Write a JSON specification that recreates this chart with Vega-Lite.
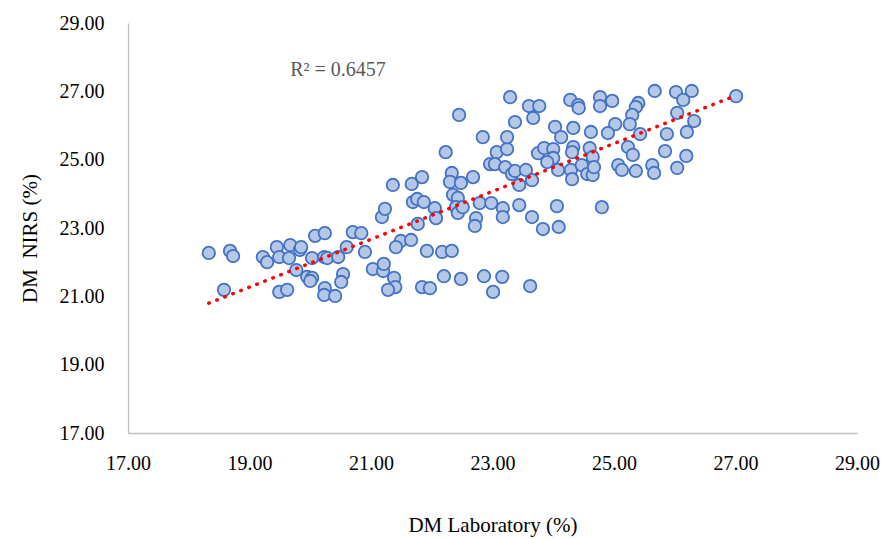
{
  "$schema": "https://vega.github.io/schema/vega-lite/v6.json",
  "width": 729,
  "height": 410,
  "autosize": {"type": "none"},
  "padding": {"left": 128, "top": 23, "right": 26, "bottom": 106},
  "background": "white",
  "config": {"view": {"stroke": null}, "font": "Liberation Serif"},
  "datasets": {
    "points": [
      {"lab": 18.33, "nirs": 22.27}, {"lab": 18.68, "nirs": 22.33}, {"lab": 18.73, "nirs": 22.18}, {"lab": 18.58, "nirs": 21.19},
      {"lab": 19.22, "nirs": 22.15}, {"lab": 19.29, "nirs": 22.00}, {"lab": 19.45, "nirs": 22.44}, {"lab": 19.49, "nirs": 22.15},
      {"lab": 19.67, "nirs": 22.50}, {"lab": 19.65, "nirs": 22.12}, {"lab": 19.83, "nirs": 22.36}, {"lab": 19.85, "nirs": 22.44},
      {"lab": 19.49, "nirs": 21.13}, {"lab": 19.62, "nirs": 21.19}, {"lab": 19.77, "nirs": 21.77}, {"lab": 19.95, "nirs": 21.57},
      {"lab": 20.03, "nirs": 21.54}, {"lab": 20.00, "nirs": 21.45}, {"lab": 20.08, "nirs": 22.77}, {"lab": 20.24, "nirs": 22.85},
      {"lab": 20.03, "nirs": 22.12}, {"lab": 20.23, "nirs": 22.15}, {"lab": 20.28, "nirs": 22.12}, {"lab": 20.46, "nirs": 22.15},
      {"lab": 20.60, "nirs": 22.44}, {"lab": 20.70, "nirs": 22.88}, {"lab": 20.84, "nirs": 22.85}, {"lab": 20.90, "nirs": 22.30},
      {"lab": 20.54, "nirs": 21.65}, {"lab": 20.51, "nirs": 21.42}, {"lab": 20.24, "nirs": 21.24}, {"lab": 20.23, "nirs": 21.04},
      {"lab": 20.41, "nirs": 21.01}, {"lab": 21.03, "nirs": 21.80}, {"lab": 21.20, "nirs": 21.74}, {"lab": 21.21, "nirs": 21.95},
      {"lab": 21.38, "nirs": 21.54}, {"lab": 21.40, "nirs": 21.27}, {"lab": 21.28, "nirs": 21.19}, {"lab": 21.18, "nirs": 23.32},
      {"lab": 21.23, "nirs": 23.56}, {"lab": 21.36, "nirs": 24.26}, {"lab": 21.49, "nirs": 22.62}, {"lab": 21.41, "nirs": 22.44},
      {"lab": 21.66, "nirs": 22.65}, {"lab": 21.67, "nirs": 24.29}, {"lab": 21.84, "nirs": 24.49}, {"lab": 21.69, "nirs": 23.76},
      {"lab": 21.76, "nirs": 23.85}, {"lab": 21.87, "nirs": 23.76}, {"lab": 21.77, "nirs": 23.12}, {"lab": 22.05, "nirs": 23.58},
      {"lab": 22.07, "nirs": 23.29}, {"lab": 21.92, "nirs": 22.33}, {"lab": 21.84, "nirs": 21.27}, {"lab": 21.97, "nirs": 21.24},
      {"lab": 22.17, "nirs": 22.30}, {"lab": 22.33, "nirs": 22.33}, {"lab": 22.20, "nirs": 21.59}, {"lab": 22.48, "nirs": 21.51},
      {"lab": 22.23, "nirs": 25.22}, {"lab": 22.33, "nirs": 24.61}, {"lab": 22.30, "nirs": 24.35}, {"lab": 22.48, "nirs": 24.32},
      {"lab": 22.68, "nirs": 24.49}, {"lab": 22.45, "nirs": 26.31}, {"lab": 22.35, "nirs": 23.97}, {"lab": 22.43, "nirs": 23.88},
      {"lab": 22.40, "nirs": 23.61}, {"lab": 22.43, "nirs": 23.44}, {"lab": 22.51, "nirs": 23.61}, {"lab": 22.79, "nirs": 23.73},
      {"lab": 22.98, "nirs": 23.73}, {"lab": 22.73, "nirs": 23.29}, {"lab": 22.71, "nirs": 23.06}, {"lab": 23.17, "nirs": 23.58},
      {"lab": 23.17, "nirs": 23.32}, {"lab": 22.86, "nirs": 21.59}, {"lab": 23.16, "nirs": 21.57}, {"lab": 23.01, "nirs": 21.13},
      {"lab": 23.44, "nirs": 23.67}, {"lab": 23.65, "nirs": 23.32}, {"lab": 23.83, "nirs": 22.97}, {"lab": 24.06, "nirs": 23.64},
      {"lab": 24.09, "nirs": 23.03}, {"lab": 23.62, "nirs": 21.30}, {"lab": 24.80, "nirs": 23.61}, {"lab": 22.84, "nirs": 25.66},
      {"lab": 23.07, "nirs": 25.22}, {"lab": 23.24, "nirs": 25.31}, {"lab": 23.29, "nirs": 26.83}, {"lab": 23.24, "nirs": 25.66},
      {"lab": 23.37, "nirs": 26.10}, {"lab": 22.96, "nirs": 24.87}, {"lab": 23.04, "nirs": 24.87}, {"lab": 23.21, "nirs": 24.78},
      {"lab": 23.32, "nirs": 24.58}, {"lab": 23.37, "nirs": 24.67}, {"lab": 23.55, "nirs": 24.70}, {"lab": 23.44, "nirs": 24.26},
      {"lab": 23.65, "nirs": 24.40}, {"lab": 23.60, "nirs": 26.57}, {"lab": 23.77, "nirs": 26.57}, {"lab": 23.67, "nirs": 26.22},
      {"lab": 24.03, "nirs": 25.96}, {"lab": 24.13, "nirs": 25.66}, {"lab": 23.75, "nirs": 25.19}, {"lab": 23.85, "nirs": 25.34},
      {"lab": 24.00, "nirs": 25.31}, {"lab": 24.00, "nirs": 25.05}, {"lab": 23.90, "nirs": 24.93}, {"lab": 24.08, "nirs": 24.70},
      {"lab": 24.29, "nirs": 24.70}, {"lab": 24.31, "nirs": 24.43}, {"lab": 24.28, "nirs": 26.75}, {"lab": 24.41, "nirs": 26.60},
      {"lab": 24.42, "nirs": 26.51}, {"lab": 24.77, "nirs": 26.83}, {"lab": 24.77, "nirs": 26.57}, {"lab": 24.97, "nirs": 26.72},
      {"lab": 25.40, "nirs": 26.66}, {"lab": 25.36, "nirs": 26.54}, {"lab": 25.67, "nirs": 27.01}, {"lab": 26.02, "nirs": 26.98},
      {"lab": 26.28, "nirs": 27.01}, {"lab": 26.14, "nirs": 26.75}, {"lab": 27.01, "nirs": 26.86}, {"lab": 25.30, "nirs": 26.31},
      {"lab": 25.26, "nirs": 26.04}, {"lab": 25.02, "nirs": 26.04}, {"lab": 24.90, "nirs": 25.78}, {"lab": 24.62, "nirs": 25.81},
      {"lab": 24.33, "nirs": 25.93}, {"lab": 25.43, "nirs": 25.75}, {"lab": 26.04, "nirs": 26.37}, {"lab": 26.32, "nirs": 26.13},
      {"lab": 26.20, "nirs": 25.81}, {"lab": 25.87, "nirs": 25.75}, {"lab": 24.33, "nirs": 25.37}, {"lab": 24.31, "nirs": 25.22},
      {"lab": 24.60, "nirs": 25.34}, {"lab": 24.65, "nirs": 25.08}, {"lab": 25.23, "nirs": 25.37}, {"lab": 25.31, "nirs": 25.14},
      {"lab": 25.84, "nirs": 25.25}, {"lab": 26.19, "nirs": 25.11}, {"lab": 24.47, "nirs": 24.84}, {"lab": 24.56, "nirs": 24.58},
      {"lab": 24.65, "nirs": 24.55}, {"lab": 24.67, "nirs": 24.78}, {"lab": 25.07, "nirs": 24.84}, {"lab": 25.13, "nirs": 24.70},
      {"lab": 25.36, "nirs": 24.67}, {"lab": 25.63, "nirs": 24.84}, {"lab": 25.66, "nirs": 24.61}, {"lab": 26.04, "nirs": 24.76}
    ],
    "trend": [
      {"lab": 18.33, "nirs": 20.80},
      {"lab": 27.01, "nirs": 26.88}
    ],
    "label": [
      {"lab": 19.67, "nirs": 27.62, "text": "R² = 0.6457"}
    ]
  },
  "layer": [
    {
      "data": {"name": "points"},
      "mark": {"type": "point", "shape": "circle", "filled": false, "fill": "#b4c7e7", "fillOpacity": 1, "stroke": "#4472c4", "strokeWidth": 1.8, "size": 155, "opacity": 1},
      "encoding": {
        "x": {
          "field": "lab", "type": "quantitative",
          "scale": {"domain": [17, 29], "nice": false, "zero": false},
          "axis": {
            "title": "DM Laboratory (%)",
            "values": [17, 19, 21, 23, 25, 27, 29],
            "format": ".2f",
            "grid": false, "ticks": false, "tickSize": 0,
            "domainColor": "#bfbfbf", "domainWidth": 1.3,
            "labelFont": "Liberation Serif", "labelFontSize": 20, "labelColor": "#000000", "labelPadding": 20,
            "labelFlush": false, "labelOverlap": false,
            "titleFont": "Liberation Serif", "titleFontSize": 21, "titleFontWeight": "normal", "titleColor": "#000000",
            "titleY": 92, "titleBaseline": "middle"
          }
        },
        "y": {
          "field": "nirs", "type": "quantitative",
          "scale": {"domain": [17, 29], "nice": false, "zero": false},
          "axis": {
            "title": "DM\u00a0 NIRS (%)",
            "values": [17, 19, 21, 23, 25, 27, 29],
            "format": ".2f",
            "grid": false, "ticks": false, "tickSize": 0,
            "domainColor": "#bfbfbf", "domainWidth": 1.3,
            "labelFont": "Liberation Serif", "labelFontSize": 20, "labelColor": "#000000", "labelPadding": 24,
            "labelFlush": false, "labelOverlap": false,
            "titleFont": "Liberation Serif", "titleFontSize": 21, "titleFontWeight": "normal", "titleColor": "#000000",
            "titleAngle": -90, "titleX": -98, "titleY": 215, "titleBaseline": "middle", "titleAlign": "center"
          }
        }
      }
    },
    {
      "data": {"name": "trend"},
      "mark": {"type": "line", "color": "#ff0000", "strokeWidth": 3.5, "strokeCap": "round", "strokeDash": [0.5, 8.1]},
      "encoding": {
        "x": {"field": "lab", "type": "quantitative"},
        "y": {"field": "nirs", "type": "quantitative"}
      }
    },
    {
      "data": {"name": "label"},
      "mark": {"type": "text", "align": "left", "baseline": "middle", "font": "Liberation Serif", "fontSize": 20, "color": "#595959"},
      "encoding": {
        "x": {"field": "lab", "type": "quantitative"},
        "y": {"field": "nirs", "type": "quantitative"},
        "text": {"field": "text"}
      }
    }
  ]
}
